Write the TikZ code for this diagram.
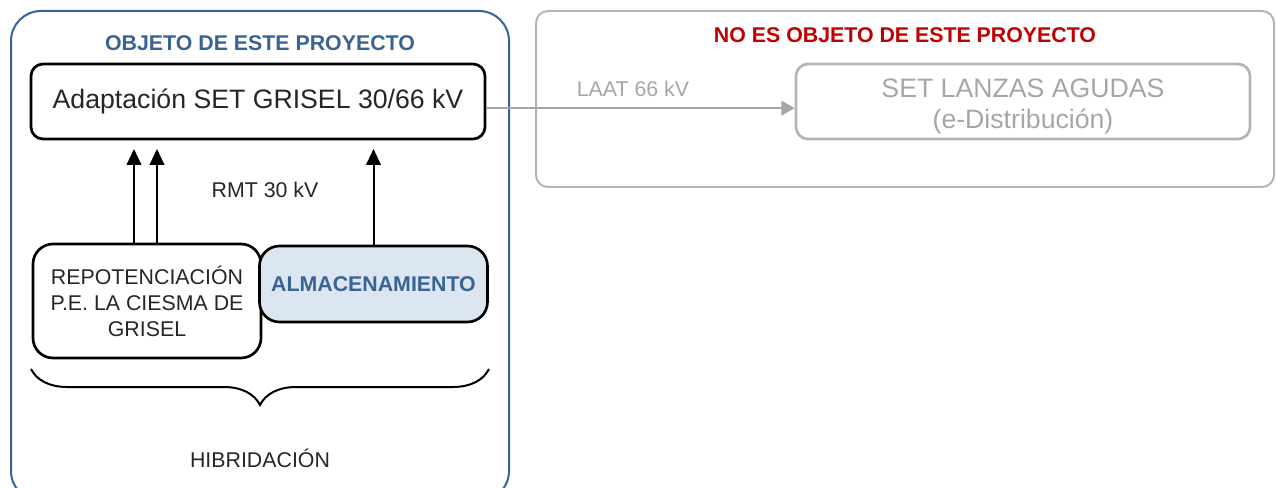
\documentclass[tikz,border=0pt]{standalone}
\usepackage{fontspec}
\setmainfont{Liberation Sans}
\usetikzlibrary{arrows.meta, positioning, decorations.pathreplacing}
\definecolor{azulobj}{HTML}{3A6395}
\definecolor{azulclaro}{HTML}{DCE6F2}
\definecolor{rojoobj}{HTML}{C00000}
\definecolor{grisobj}{HTML}{A6A6A6}
\definecolor{grismarco}{HTML}{B4B4B4}
\definecolor{textoosc}{HTML}{262626}

\begin{document}
\begin{tikzpicture}[
        x=0.75pt, y=-0.75pt,
        >={Triangle[width=11pt, length=12pt]},
        every node/.style={font=\fontsize{16}{19.5}\selectfont, text=textoosc, align=center, inner sep=0pt},
        marco/.style={rounded corners=9pt, line width=1.5pt, anchor=north west},
        bloque/.style={draw=black, line width=2pt, rounded corners=9pt, minimum width=340.5pt, minimum height=56.25pt, font=\fontsize{20}{23}\selectfont},
        subbloque/.style={draw=black, line width=2pt, rounded corners=15pt, minimum width=171pt},
        titulo/.style={font=\fontsize{16}{19.5}\selectfont\bfseries},
        flecha/.style={line width=1.5pt, ->, shorten >=6.5pt}
    ]
        \useasboundingbox (0,0) rectangle (1277,488);

        % Marcos
        \node [marco, draw=azulobj, rounded corners=22.5pt, minimum width=373.5pt, minimum height=367.5pt] (objeto) at (10,10) {};
        \node [marco, draw=grismarco, minimum width=553.5pt, minimum height=132pt] (noobjeto) at (535,10) {};
        \node [titulo, text=azulobj] (tobjeto) at (260,43) {OBJETO DE ESTE PROYECTO};
        \node [titulo, text=rojoobj] (tnoobjeto) at (905,35) {NO ES OBJETO DE ESTE PROYECTO};

        % Bloques
        \node [bloque] (set) at (258,101.5) {Adaptación SET GRISEL 30/66 kV};
        \node [subbloque, minimum height=85.5pt] (repo) at (147,301) {REPOTENCIACIÓN\\P.E. LA CIESMA DE\\GRISEL};
        \node [subbloque, fill=azulclaro, minimum height=57pt, text=azulobj, font=\fontsize{16}{19.5}\selectfont\bfseries] (alma) at (373.5,284) {ALMACENAMIENTO};
        \node [bloque, draw=grismarco] (lanzas) at (1023,101.5) {};
        \node [text=grisobj, font=\fontsize{20}{23}\selectfont] (tlanzas) at (1023,106.5) {SET LANZAS AGUDAS\\(e-Distribución)};

        % Conexiones
        \draw [flecha] ([xshift=-9.75pt]repo.north) -- ([xshift=-9.75pt]repo.north |- set.south);
        \draw [flecha] ([xshift=7.5pt]repo.north) -- ([xshift=7.5pt]repo.north |- set.south);
        \draw [flecha] (alma.north) -- (alma.north |- set.south);
        \draw [grisobj, line width=1.5pt, -{Triangle[width=11pt, length=10pt]}] ([yshift=-5pt]set.east) -- ([yshift=-5pt]lanzas.west);
        \node (rmt) at (265,190) {RMT 30 kV};
        \node [text=grisobj] (laat) at (633,89) {LAAT 66 kV};

        % Llave
        \coordinate (llizq) at (31,369);
        \coordinate (llder) at (489,369);
        \draw [line width=1.5pt, decorate, decoration={brace, mirror, amplitude=27pt}] (llizq) -- (llder);
        \node (hib) at (260,458) {HIBRIDACIÓN};
    \end{tikzpicture}
\end{document}
